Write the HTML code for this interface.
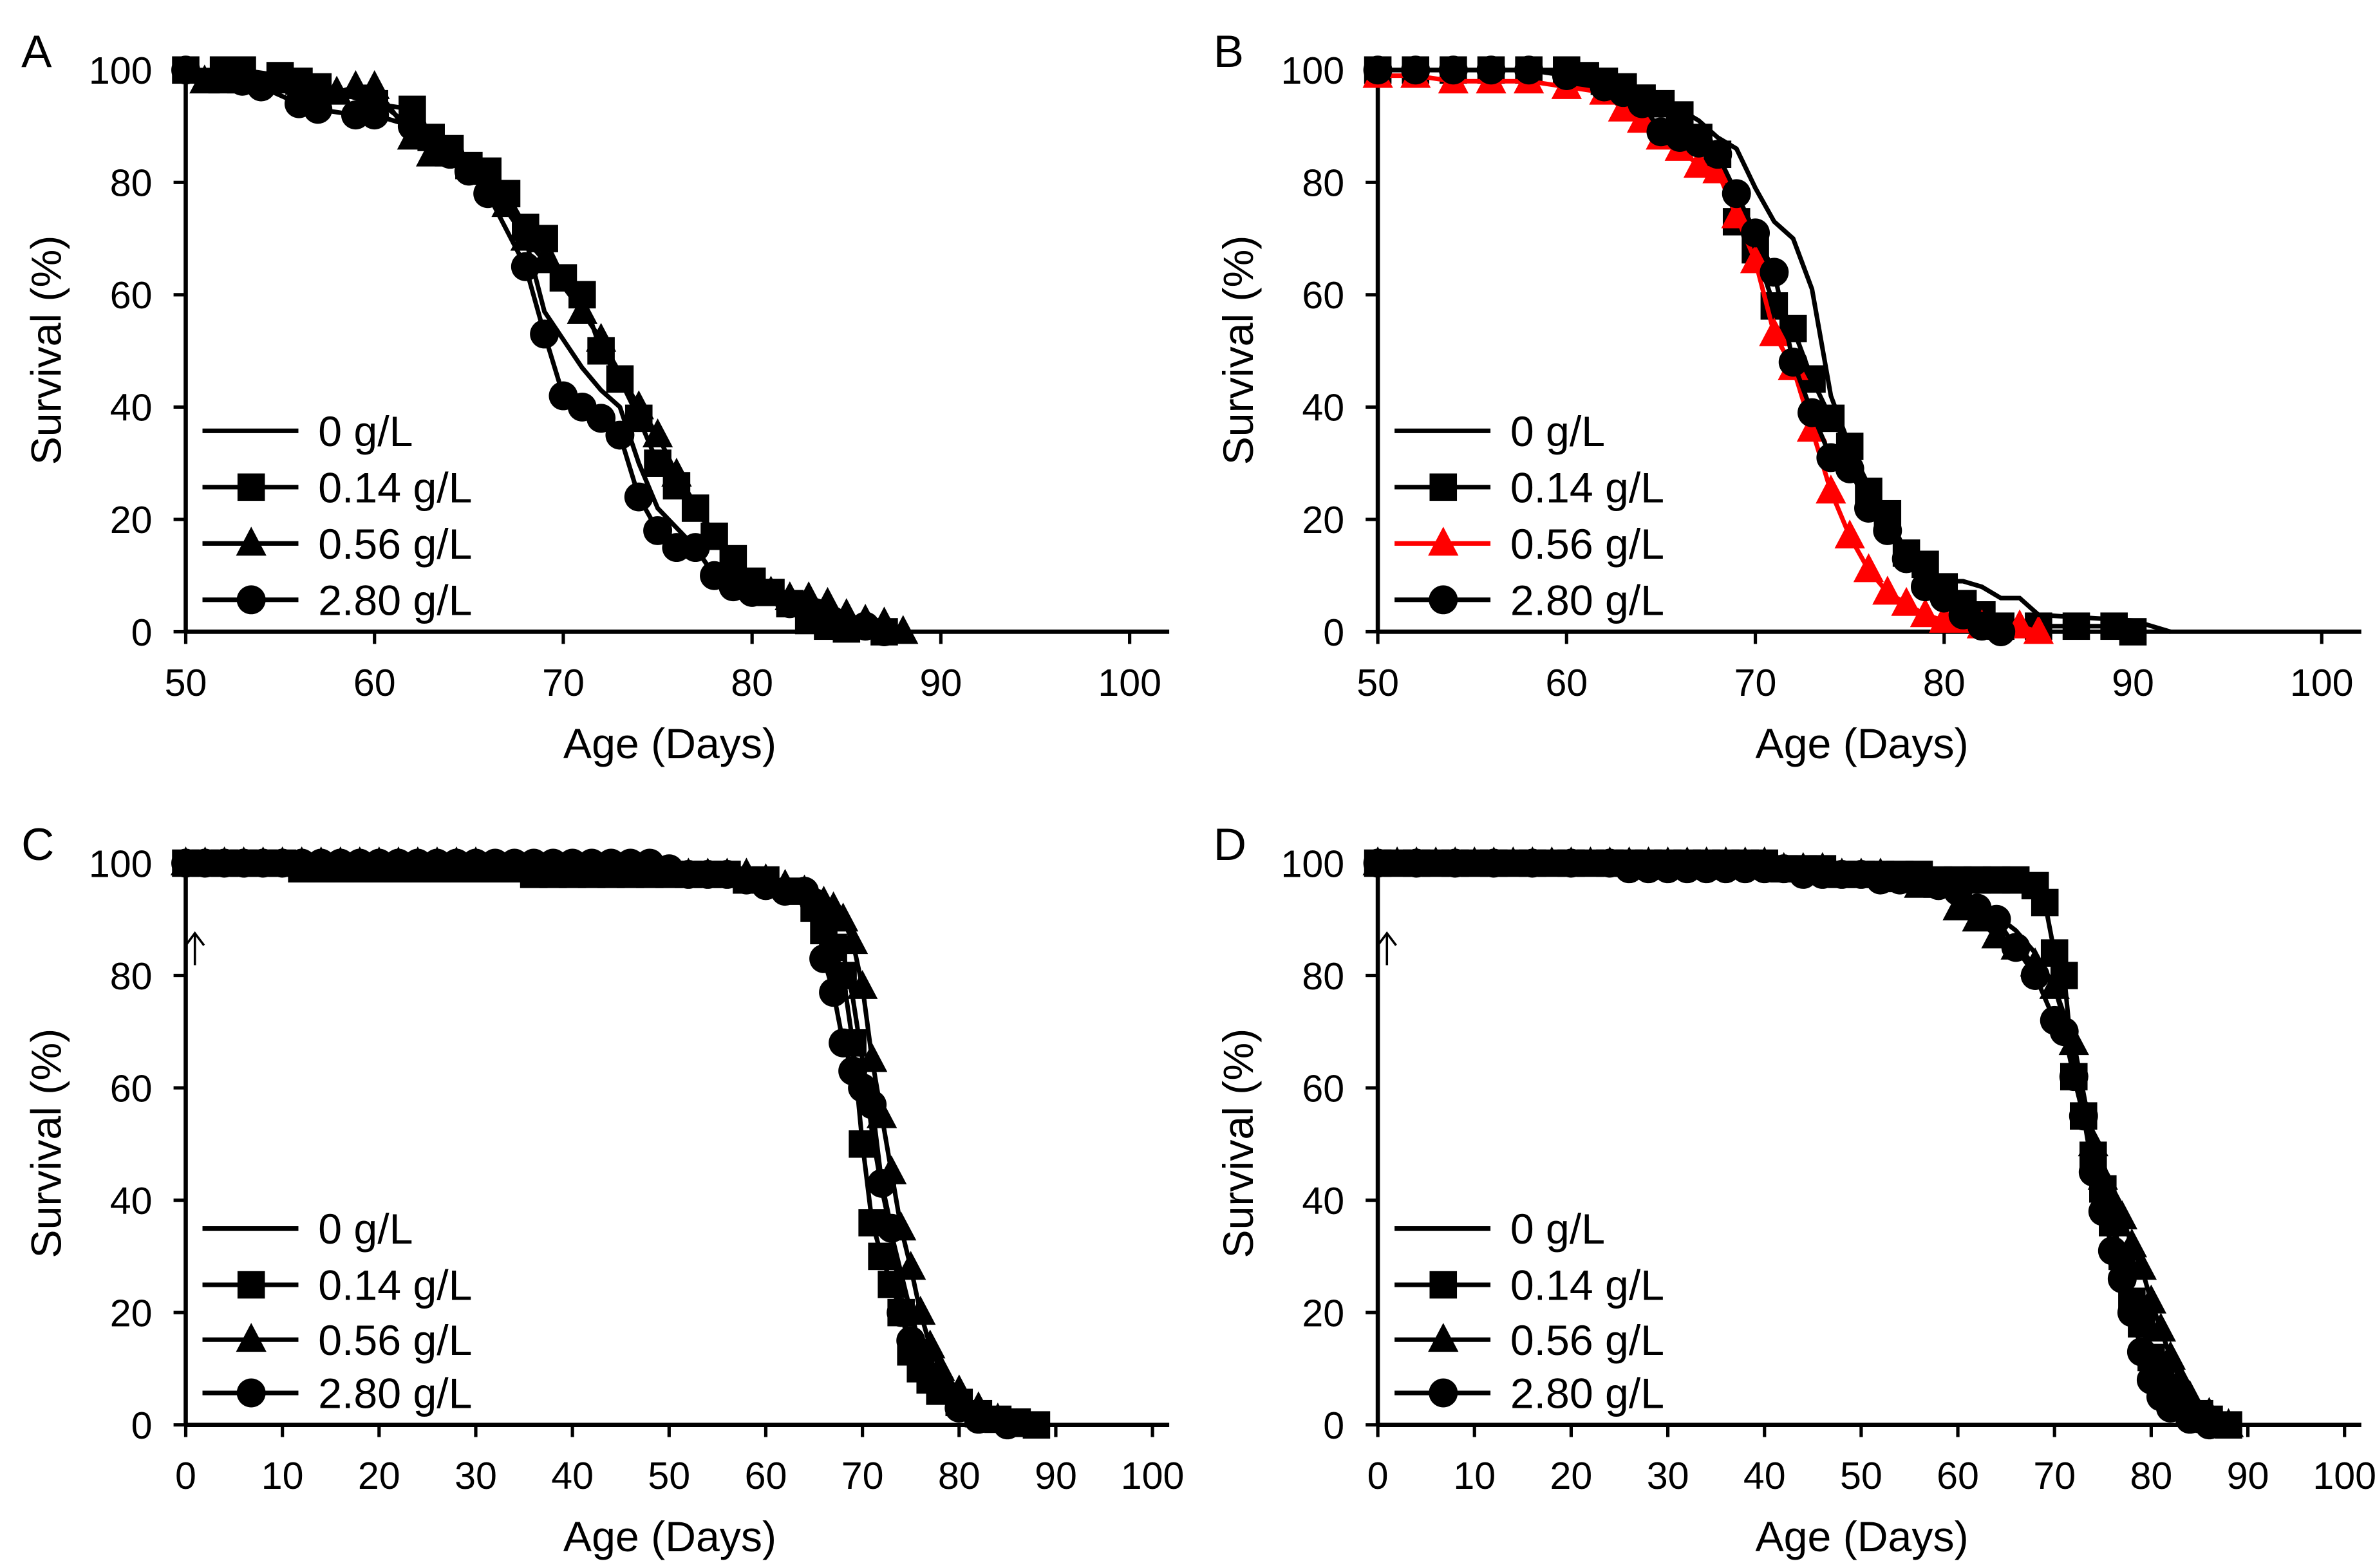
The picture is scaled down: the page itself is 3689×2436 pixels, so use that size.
<!DOCTYPE html>
<html><head><meta charset="utf-8"><style>
html,body{margin:0;padding:0;background:#fff;}
svg{display:block;}
text{font-family:"Liberation Sans",sans-serif;fill:#000;}
</style></head><body>
<svg id="fig" xmlns="http://www.w3.org/2000/svg" width="3689" height="2436" viewBox="0 0 1560 1030" preserveAspectRatio="none"></svg>
<script>
// ---------- Data ----------
const legendLabels = ["0 g/L","0.14 g/L","0.56 g/L","2.80 g/L"];
const yTicks = [0,20,40,60,80,100];
const xTicksAB = [50,60,70,80,90,100];
const xTicksCD = [0,10,20,30,40,50,60,70,80,90,100];

const A0_days = [50,55,60,63,66,68,69,70,71,72,73,74,75,77,78,80,82,84,86,88];
const A0_surv = [100,98,95,87,80,70,57,52,47,43,40,30,22,15,10,8,5,2,1,0];
const A1_days = [50,52,53,55,56,57,60,62,63,64,65,66,67,68,69,70,71,72,73,74,75,76,77,78,79,80,81,82,83,84,85,87];
const A1_surv = [100,100,100,99,98,97,94,93,88,86,83,82,78,72,70,63,60,50,45,38,30,26,22,17,13,9,7,5,2,1,0.5,0];
const A2_days = [51,52,53,55,58,59,60,62,63,64,67,68,69,71,72,74,75,76,79,80,81,82,83,84,85,86,87,88];
const A2_surv = [98,98,98,98,96,97,97,88,85,85,76,70,66,57,52,40,35,28,12,8,7,6,6,5,3,2,1.5,0];
const A3_days = [50,53,54,56,57,59,60,62,64,65,66,68,69,70,71,72,73,74,75,76,77,78,79,80,82,84,86,87];
const A3_surv = [100,98,97,94,93,92,92,90,85,82,78,65,53,42,40,38,35,24,18,15,15,10,8,7,5,2,1,0];

const B0_days = [50,60,63,66,67,68,69,70,71,72,73,74,75,76,77,78,79,80,81,82,83,84,85,90,92];
const B0_surv = [100,100,97,93,91,88,86,79,73,70,61,42,33,26,20,14,12,9,9,8,6,6,3,2,0];
const B1_days = [50,52,54,56,58,60,61,62,63,64,65,66,67,68,69,70,71,72,73,74,75,76,77,78,79,80,81,82,83,85,87,89,90];
const B1_surv = [100,100,100,100,100,100,99,98,97,95,94,92,88,85,73,68,58,54,45,38,33,25,21,14,12,8,5,3,1,1,1,1,0];
const B2_days = [50,52,54,56,58,60,62,63,64,65,66,67,68,69,70,71,72,73,74,75,76,77,78,79,80,81,82,84,85];
const B2_surv = [99,99,98,98,98,97,96,93,91,88,86,83,82,74,66,53,47,36,25,17,11,7,5,3,2,2,1,1,0];
const B3_days = [50,52,54,56,58,60,62,63,64,65,66,67,68,69,70,71,72,73,74,75,76,77,78,79,80,81,82,83];
const B3_surv = [100,100,100,100,100,99,97,96,94,89,88,87,85,78,71,64,48,39,31,29,22,18,13,8,6,3,1,0];

const C0_days = [0,10,20,30,40,50,55,60,63,65,67,68,69,70,71,72,73,74,75,76,78,80,82,84,86,88];
const C0_surv = [100,100,99,99,99,98,98,97,95,92,88,84,76,65,52,42,34,27,20,14,8,5,3,1,0.5,0];
const C1_days = [0,2,4,6,8,10,12,14,16,18,20,22,24,26,28,30,32,34,36,38,40,42,44,46,48,50,52,54,56,58,60,63,65,66,67,68,69,70,71,72,73,74,75,76,77,78,80,82,84,86,88];
const C1_surv = [100,100,100,100,100,100,99,99,99,99,99,99,99,99,99,99,99,99,98,98,98,98,98,98,98,98,98,98,98,97,97,95,92,88,85,80,68,50,36,30,25,20,13,10,8,6,4,2,1,0.5,0];
const C2_days = [0,2,4,6,8,10,12,14,16,18,20,22,24,26,28,30,32,34,36,38,40,42,44,46,48,50,52,54,56,58,60,62,64,66,67,68,69,70,71,72,73,74,75,76,77,78,80,82,84,86];
const C2_surv = [100,100,100,100,100,100,100,100,100,100,100,100,100,100,100,100,99,99,99,99,99,99,99,99,99,98,98,98,98,98,97,96,95,93,92,90,86,78,65,55,45,35,28,20,14,10,6,3,1,0];
const C3_days = [0,2,4,6,8,10,12,14,16,18,20,22,24,26,28,30,32,34,36,38,40,42,44,46,48,50,52,54,56,58,60,62,64,65,66,67,68,69,70,71,72,73,74,75,76,78,80,82,85];
const C3_surv = [100,100,100,100,100,100,100,100,100,100,100,100,100,100,100,100,100,100,100,100,100,100,100,100,100,99,98,98,98,97,96,95,95,93,83,77,68,63,60,57,43,35,20,15,12,7,3,1,0];

const D0_days = [0,10,20,30,40,50,55,60,63,66,68,70,71,72,73,74,75,76,77,78,79,80,81,82,84,86,88];
const D0_surv = [100,100,100,99,99,98,97,95,92,88,84,78,72,64,56,48,41,35,30,24,18,13,9,6,3,1,0];
const D1_days = [0,2,4,6,8,10,12,14,16,18,20,22,24,26,28,30,32,34,36,38,40,42,44,46,48,50,52,54,56,58,60,62,64,66,68,69,70,71,72,73,74,75,76,77,78,79,80,81,82,83,85,86,88];
const D1_surv = [100,100,100,100,100,100,100,100,100,100,100,100,100,100,100,100,100,100,100,100,100,99,99,99,98,98,98,98,98,97,97,97,97,97,96,93,84,80,62,55,48,42,36,30,22,18,12,8,6,4,2,1,0];
const D2_days = [0,2,4,6,8,10,12,14,16,18,20,22,24,26,28,30,32,34,36,38,40,42,44,46,48,50,52,54,56,58,60,62,64,66,68,70,72,74,75,76,77,78,79,80,81,82,83,84,86,88];
const D2_surv = [100,100,100,100,100,100,100,100,100,100,100,100,100,100,100,100,100,100,100,100,100,99,99,99,98,98,98,97,96,96,92,90,87,85,82,78,68,50,44,40,37,32,28,22,17,12,8,5,2,0];
const D3_days = [0,4,8,12,16,20,24,26,28,30,32,34,36,38,40,42,44,46,48,50,52,54,56,58,60,62,64,66,68,70,71,72,73,74,75,76,77,78,79,80,81,82,84,86];
const D3_surv = [100,100,100,100,100,100,100,99,99,99,99,99,99,99,99,99,98,98,98,98,97,97,97,96,95,92,90,85,80,72,70,62,55,45,38,31,26,20,13,8,5,3,1,0];

// ---------- Drawing ----------
const NS = "http://www.w3.org/2000/svg";
const svg = document.getElementById("fig");
function mk(tag, attrs, parent) {
  const e = document.createElementNS(NS, tag);
  for (const k in attrs) e.setAttribute(k, attrs[k]);
  (parent || svg).appendChild(e);
  return e;
}
function marker(g, shape, x, y, color) {
  let m;
  if (shape === "square") m = mk("rect", {x: x - 9, y: y - 9, width: 18, height: 18, fill: color}, g);
  else if (shape === "triangle") m = mk("polygon", {points: `${x},${y - 11} ${x - 10},${y + 8} ${x + 10},${y + 8}`, fill: color}, g);
  else if (shape === "circle") m = mk("circle", {cx: x, cy: y, r: 9.5, fill: color}, g);
  return m;
}

const panels = [
  {id: "a", letter: "A", ox: 0, oy: 0, xmin: 50, xmax: 100, ticks: xTicksAB, arrow: false,
   series: [[A0_days, A0_surv], [A1_days, A1_surv], [A2_days, A2_surv], [A3_days, A3_surv]], colors: ["#000", "#000", "#000", "#000"]},
  {id: "b", letter: "B", ox: 783, oy: 0, xmin: 50, xmax: 100, ticks: xTicksAB, arrow: false,
   series: [[B0_days, B0_surv], [B1_days, B1_surv], [B2_days, B2_surv], [B3_days, B3_surv]], colors: ["#000", "#000", "#ff0000", "#000"]},
  {id: "c", letter: "C", ox: 0, oy: 521, xmin: 0, xmax: 100, ticks: xTicksCD, arrow: true,
   series: [[C0_days, C0_surv], [C1_days, C1_surv], [C2_days, C2_surv], [C3_days, C3_surv]], colors: ["#000", "#000", "#000", "#000"]},
  {id: "d", letter: "D", ox: 783, oy: 521, xmin: 0, xmax: 100, ticks: xTicksCD, arrow: true,
   series: [[D0_days, D0_surv], [D1_days, D1_surv], [D2_days, D2_surv], [D3_days, D3_surv]], colors: ["#000", "#000", "#000", "#000"]}
];
const shapes = [null, "square", "triangle", "circle"];

panels.forEach(p => {
  const g = mk("g", {});
  
  
  const x0 = 122 + p.ox, y0 = 415 + p.oy, yTop = 46 + p.oy;
  const x100 = p.xmin === 50 ? 742 + p.ox : 757 + p.ox;
  const xs = v => x0 + (v - p.xmin) / (p.xmax - p.xmin) * (x100 - x0);
  const ys = v => y0 - v / 100 * (y0 - yTop);

  const lt = mk("text", {x: 14 + p.ox, y: 44 + p.oy, "font-size": 30}, g);
  lt.textContent = p.letter;
  
  

  const ya = mk("line", {x1: x0, y1: yTop - 1, x2: x0, y2: y0 + 1, stroke: "#000", "stroke-width": 2.8}, g);
  
  
  const xa = mk("line", {x1: x0 - 1, y1: y0, x2: 768 + p.ox, y2: y0, stroke: "#000", "stroke-width": 2.8}, g);
  
  

  yTicks.forEach(t => {
    mk("line", {x1: x0 - 8, y1: ys(t), x2: x0, y2: ys(t), stroke: "#000", "stroke-width": 2.2}, g);
    const tl = mk("text", {x: x0 - 22, y: ys(t) + 9, "font-size": 25, "text-anchor": "end"}, g);
    tl.textContent = t;
    
    
  });
  p.ticks.forEach(t => {
    mk("line", {x1: xs(t), y1: y0, x2: xs(t), y2: y0 + 8, stroke: "#000", "stroke-width": 2.2}, g);
    const tl = mk("text", {x: xs(t), y: y0 + 42, "font-size": 25, "text-anchor": "middle"}, g);
    tl.textContent = t;
    
    
  });

  const yt = mk("text", {x: 0, y: 0, "font-size": 28, "text-anchor": "middle", transform: `translate(${40 + p.ox},${230 + p.oy}) rotate(-90)`}, g);
  yt.textContent = "Survival (%)";
  
  
  const xt = mk("text", {x: 440 + p.ox, y: 498 + p.oy, "font-size": 28, "text-anchor": "middle"}, g);
  xt.textContent = "Age (Days)";
  
  

  [1, 2, 3, 0].forEach(i => {
    const [d, s] = p.series[i];
    const sg = mk("g", {}, g);
    
    
    const pts = d.map((v, k) => xs(v) + "," + ys(s[k])).join(" ");
    mk("polyline", {points: pts, fill: "none", stroke: p.colors[i], "stroke-width": 3}, sg);
    if (shapes[i]) d.forEach((v, k) => {
      const m = marker(sg, shapes[i], xs(v), ys(s[k]), p.colors[i]);
      
      
    });
  });

  if (p.arrow) {
    const ar = mk("path", {d: `M${x0 + 6},${y0 - 336 + 34} L${x0 + 6},${y0 - 336 + 14} M${x0},${y0 - 336 + 21} L${x0 + 6},${y0 - 336 + 13} L${x0 + 12},${y0 - 336 + 21}`, fill: "none", stroke: "#000", "stroke-width": 1.5}, g);
    
    
  }

  const legY = p.oy === 0 ? [283, 320, 357, 394] : [807 - 521, 844 - 521, 880 - 521, 915 - 521];
  legendLabels.forEach((lab, i) => {
    const lg = mk("g", {}, g);
    
    
    const y = legY[i] + p.oy;
    mk("line", {x1: 133 + p.ox, y1: y, x2: 196 + p.ox, y2: y, stroke: p.colors[i], "stroke-width": 3}, lg);
    if (shapes[i]) marker(lg, shapes[i], 165 + p.ox, y, p.colors[i]);
    const t = mk("text", {x: 209 + p.ox, y: y + 10, "font-size": 28}, lg);
    t.textContent = lab;
  });
});
</script>
</body></html>
